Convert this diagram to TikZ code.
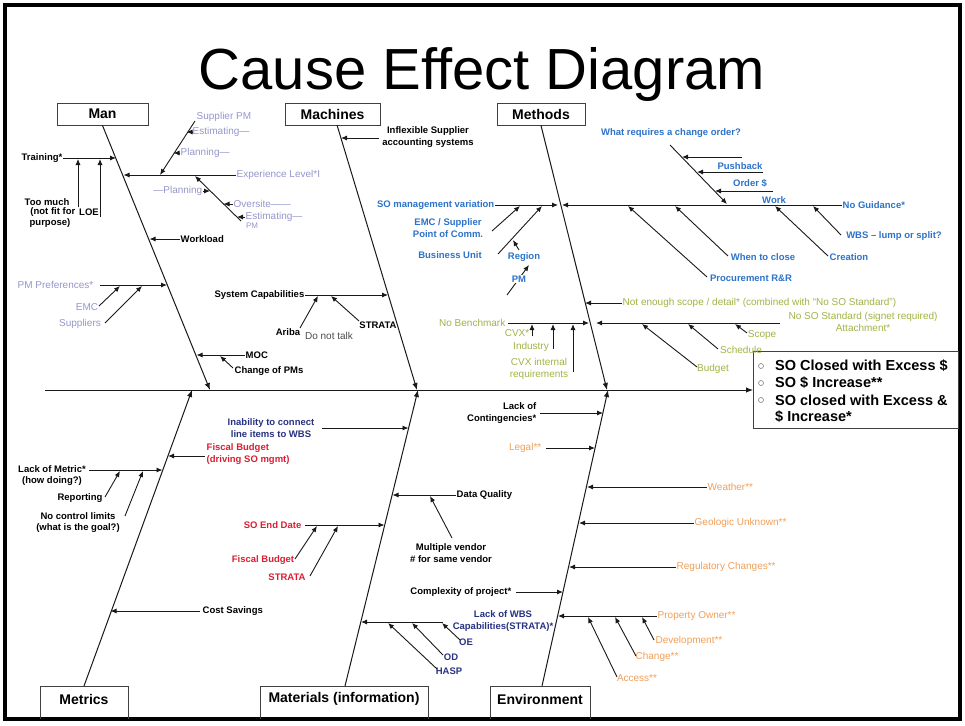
\documentclass[tikz,border=0pt]{standalone}
\usepackage{fontspec}
\setmainfont{Liberation Sans}
\usetikzlibrary{arrows.meta}
\definecolor{lav}{RGB}{150,150,205}
\definecolor{blu}{RGB}{45,115,200}
\definecolor{grn}{RGB}{160,180,70}
\definecolor{rd}{RGB}{220,30,50}
\definecolor{nvy}{RGB}{40,50,130}
\definecolor{org}{RGB}{240,160,90}
\begin{document}
\begin{tikzpicture}[x=1pt,y=-1pt,
  ln/.style={draw=black!90, line width=0.9pt},
  ar/.style={ln, -{Latex[length=6pt,width=5pt]}},
  bone/.style={draw=black!90, line width=1pt, -{Latex[length=7pt,width=5.5pt]}},
  cat/.style={draw=black!75, line width=1pt, font=\fontsize{14}{16}\selectfont\bfseries, inner sep=0pt},
  catl/.style={draw=black!75, line width=1pt},
  lab/.style={inner sep=0.5pt, align=center},
  bf/.style={lab, font=\fontsize{9.5}{11.5}\selectfont\bfseries},
  rg/.style={lab, font=\fontsize{10}{11.5}\selectfont},
  tb/.style={bf, text=black},
  tbl/.style={bf, text=blu},
  trd/.style={bf, text=rd},
  tnv/.style={bf, text=nvy},
  tlv/.style={rg, text=lav},
  tgr/.style={rg, text=grn},
  tor/.style={rg, text=org},
  eff/.style={inner sep=0pt, font=\fontsize{14.5}{17}\selectfont\bfseries, anchor=west},
  bul/.style={circle, draw=black!50, line width=0.6pt, inner sep=0pt, minimum size=5pt}
]
\useasboundingbox (0,0) rectangle (965,725);
\fill[white] (0,0) rectangle (965,725);
\draw[line width=3.5pt] (5,5) rectangle (960,719);

\node[font=\fontsize{58}{60}\selectfont, anchor=base] (title) at (482,89) {Cause Effect Diagram};

% ---------- category boxes ----------
\node[cat, minimum width=91pt, minimum height=22pt] (man) at (102.5,114) {Man};
\node[cat, minimum width=95pt, minimum height=22pt] (mach) at (332.5,114) {Machines};
\node[cat, minimum width=88pt, minimum height=22pt] (meth) at (541,114) {Methods};
\node[cat, draw=none] (metr) at (84,699) {Metrics};
\node[cat, draw=none] (mat) at (344,699) {Materials (information)};
\node[cat, draw=none] (env) at (540,699) {Environment};
\draw[catl] (40,719) |- (128,686) -- (128,719);
\draw[catl] (260,719) |- (428,686) -- (428,719);
\draw[catl] (490,719) |- (590,686) -- (590,719);

% ---------- effect box ----------
\node[draw=black!75, line width=1pt, minimum width=205pt, minimum height=77pt, inner sep=0, anchor=west] (effb) at (753,390) {};
\node[bul] (b1) at (761,366) {};
\node[bul] (b2) at (761,383) {};
\node[bul] (b3) at (761,400) {};
\node[eff] (e1) at (775,366) {SO Closed with Excess \$};
\node[eff] (e2) at (775,383) {SO \$ Increase**};
\node[eff] (e3) at (775,400) {SO closed with Excess \&};
\node[eff] (e4) at (775,417) {\$ Increase*};

% ---------- spine and bones ----------
\coordinate (spL) at (45,390);
\draw[bone] (spL) -- (effb.west);
\coordinate (manB) at (210,390);
\coordinate (machT) at (337,125); \coordinate (machB) at (417,390);
\coordinate (methB) at (607,390);
\coordinate (metrT) at (192,390); \coordinate (metrS) at (84,686);
\coordinate (matT) at (418,390);  \coordinate (matS) at (345,686);
\coordinate (envT) at (608,390);  \coordinate (envS) at (542,686);
\draw[bone] (man.south) -- (manB);
\draw[bone] (machT) -- (machB);
\draw[bone] (meth.south) -- (methB);
\draw[bone] (metrS) -- (metrT);
\draw[bone] (matS) -- (matT);
\draw[bone] (envS) -- (envT);

% ---------- MAN ----------
\node[tb, anchor=east] (trn) at (63,158) {Training*};
\coordinate (trnE) at (116,158);
\draw[ar] (trn.east) -- (trnE);
\node[tb] (tm1) at (47,202) {Too much};
\node[tb, anchor=east] (tm2) at (76,212) {(not fit for};
\node[tb] (tm3) at (89,212) {LOE};
\node[tb] (tm4) at (50,223) {purpose)};
\coordinate (tv1a) at (78,207); \coordinate (tv1b) at (78,159);
\coordinate (tv2a) at (100,217); \coordinate (tv2b) at (100,159);
\draw[ar] (tv1a) -- (tv1b);
\draw[ar] (tv2a) -- (tv2b);

\node[tb, anchor=west] (wkl) at (180,239) {Workload};
\coordinate (wklE) at (149.5,239);
\draw[ar] (wkl.west) -- (wklE);

\node[tlv, anchor=west] (exp) at (236,175) {Experience Level*I};
\coordinate (expE) at (123.5,175);
\draw[ar] (exp.west) -- (expE);
\node[tlv, anchor=west] (spm) at (196,117) {Supplier PM};
\coordinate (d1a) at (195,121); \coordinate (d1b) at (160,175);
\draw[ar] (d1a) -- (d1b);
\node[tlv, anchor=west] (est1) at (192,132) {Estimating—};
\coordinate (est1E) at (186.5,132);
\draw[ar] (est1.west) -- (est1E);
\node[tlv, anchor=west] (pl1) at (180,153) {Planning—};
\coordinate (pl1E) at (173.5,153);
\draw[ar] (pl1.west) -- (pl1E);

\coordinate (d2a) at (241,221); \coordinate (d2b) at (195,176);
\draw[ar] (d2a) -- (d2b);
\node[tlv, anchor=east] (pl2) at (203,191) {—Planning};
\coordinate (pl2E) at (210,191);
\draw[ar] (pl2.east) -- (pl2E);
\node[tlv, anchor=west] (ovs) at (233,204) {Oversite——};
\coordinate (ovsE) at (223.5,204);
\draw[ar] (ovs.west) -- (ovsE);
\node[tlv, anchor=west] (est2) at (245,217) {Estimating—};
\coordinate (est2E) at (237,217);
\draw[ar] (est2.west) -- (est2E);
\node[tlv, font=\fontsize{8}{9}\selectfont] (pm2) at (252,226) {PM};

\node[tlv, anchor=east] (pmp) at (94,285) {PM Preferences*};
\coordinate (pmpA) at (100,285); \coordinate (pmpE) at (167,285);
\draw[ar] (pmpA) -- (pmpE);
\node[tlv] (emc1) at (87,307) {EMC};
\coordinate (emcA) at (99,306); \coordinate (emcB) at (120,286);
\draw[ar] (emcA) -- (emcB);
\node[tlv] (sup) at (80,324) {Suppliers};
\coordinate (supA) at (105,323); \coordinate (supB) at (142,286);
\draw[ar] (supA) -- (supB);

\node[tb, anchor=west] (moc) at (245,355) {MOC};
\coordinate (mocE) at (196.5,355);
\draw[ar] (moc.west) -- (mocE);
\node[tb, anchor=west] (cpm) at (234,371) {Change of PMs};
\coordinate (cpmA) at (233,368); \coordinate (cpmB) at (220,356);
\draw[ar] (cpmA) -- (cpmB);

% ---------- MACHINES ----------
\node[tb] (infl) at (428,137) {Inflexible Supplier\\accounting systems};
\coordinate (inflA) at (379,138); \coordinate (inflE) at (341,138);
\draw[ar] (inflA) -- (inflE);
\node[tb, anchor=east] (syc) at (305,295) {System Capabilities};
\coordinate (sycE) at (388,295);
\draw[ar] (syc.east) -- (sycE);
\node[tb] (ari) at (288,332) {Ariba};
\coordinate (ariA) at (300,328); \coordinate (ariB) at (318,296);
\draw[ar] (ariA) -- (ariB);
\node[rg, text=black!70] (dnt) at (329,336) {Do not talk};
\node[tb] (str1) at (378,325) {STRATA};
\coordinate (str1A) at (359,321); \coordinate (str1B) at (331,296);
\draw[ar] (str1A) -- (str1B);

% ---------- METHODS ----------
\node[tbl, anchor=east] (som) at (495,205) {SO management variation};
\coordinate (somE) at (558,205);
\draw[ar] (som.east) -- (somE);
\node[tbl] (emc2) at (448,228) {EMC / Supplier\\Point of Comm.};
\coordinate (emc2A) at (492,231); \coordinate (emc2B) at (520,206);
\draw[ar] (emc2A) -- (emc2B);
\node[tbl] (bu) at (450,255) {Business Unit};
\coordinate (buA) at (498,254); \coordinate (buB) at (542,206);
\draw[ar] (buA) -- (buB);
\node[tbl] (reg) at (524,257) {Region};
\coordinate (regA) at (519,250); \coordinate (regB) at (513,240);
\draw[ar] (regA) -- (regB);
\coordinate (pmA) at (507,295); \coordinate (pmB) at (529,265);
\draw[ar] (pmA) -- (pmB);
\node[tbl, fill=white] (pm3) at (519,279) {PM};

\node[tbl, anchor=west] (nog) at (842,205) {No Guidance*};
\coordinate (nogE) at (562,205);
\draw[ar] (nog.west) -- (nogE);
\node[tbl] (work) at (774,200) {Work};
\node[tbl] (wrc) at (671,133) {What requires a change order?};
\coordinate (wrcA) at (670,145); \coordinate (wrcB) at (727,204);
\draw[ar] (wrcA) -- (wrcB);
\coordinate (cw1A) at (742,157); \coordinate (cw1B) at (682,157);
\draw[ar] (cw1A) -- (cw1B);
\node[tbl] (push) at (740,166) {Pushback};
\coordinate (cw2A) at (763,172); \coordinate (cw2B) at (697,172);
\draw[ar] (cw2A) -- (cw2B);
\node[tbl] (ord) at (750,183) {Order \$};
\coordinate (cw3A) at (773,191); \coordinate (cw3B) at (715,191);
\draw[ar] (cw3A) -- (cw3B);

\node[tbl] (proc) at (751,278) {Procurement R\&R};
\coordinate (procA) at (707,277); \coordinate (procB) at (628,206);
\draw[ar] (procA) -- (procB);
\node[tbl] (whc) at (763,257) {When to close};
\coordinate (whcA) at (728,256); \coordinate (whcB) at (675,206);
\draw[ar] (whcA) -- (whcB);
\node[tbl] (cre) at (849,257) {Creation};
\coordinate (creA) at (828,256); \coordinate (creB) at (775,206);
\draw[ar] (creA) -- (creB);
\node[tbl] (wbs) at (894,236) {WBS – lump or split?};
\coordinate (wbsA) at (841,235); \coordinate (wbsB) at (813,206);
\draw[ar] (wbsA) -- (wbsB);

\node[tgr, anchor=west] (nes) at (622,303) {Not enough scope / detail* (combined with “No SO Standard”)};
\coordinate (nesE) at (585,303);
\draw[ar] (nes.west) -- (nesE);
\node[tgr, anchor=east] (nob) at (506,323) {No Benchmark};
\coordinate (nobA) at (508,323); \coordinate (nobE) at (589,323);
\draw[ar] (nobA) -- (nobE);
\node[tgr] (nos) at (863,322) {No SO Standard (signet required)\\Attachment*};
\coordinate (nosA) at (780,323); \coordinate (nosE) at (596,323);
\draw[ar] (nosA) -- (nosE);
\node[tgr, anchor=east] (cvx) at (530,333) {CVX*};
\coordinate (cvxA) at (532,336); \coordinate (cvxB) at (532,324);
\draw[ar] (cvxA) -- (cvxB);
\node[tgr] (ind) at (531,347) {Industry};
\coordinate (indA) at (553,349); \coordinate (indB) at (553,324);
\draw[ar] (indA) -- (indB);
\node[tgr] (cvxi) at (539,369) {CVX internal\\requirements};
\coordinate (cvxiA) at (573,372); \coordinate (cvxiB) at (573,324);
\draw[ar] (cvxiA) -- (cvxiB);
\node[tgr] (bud) at (713,369) {Budget};
\coordinate (budA) at (697,367); \coordinate (budB) at (642,324);
\draw[ar] (budA) -- (budB);
\node[tgr] (sch) at (741,350) {Schedule};
\coordinate (schA) at (718,349); \coordinate (schB) at (688,324);
\draw[ar] (schA) -- (schB);
\node[tgr] (scp) at (762,335) {Scope};
\coordinate (scpA) at (747,333); \coordinate (scpB) at (735,324);
\draw[ar] (scpA) -- (scpB);

% ---------- ENVIRONMENT ----------
\node[tb, align=right, anchor=east] (loc) at (537,413) {Lack of\\Contingencies*};
\coordinate (locA) at (540,413); \coordinate (locE) at (603,413);
\draw[ar] (locA) -- (locE);
\node[tor, anchor=east] (leg) at (542,448) {Legal**};
\coordinate (legA) at (546,448); \coordinate (legE) at (595,448);
\draw[ar] (legA) -- (legE);
\node[tor, anchor=west] (wea) at (707,487) {Weather**};
\coordinate (weaE) at (587,487);
\draw[ar] (wea.west) -- (weaE);
\node[tor, anchor=west] (geo) at (694,523) {Geologic Unknown**};
\coordinate (geoE) at (579,523);
\draw[ar] (geo.west) -- (geoE);
\node[tor, anchor=west] (regc) at (676,567) {Regulatory Changes**};
\coordinate (regcE) at (569,567);
\draw[ar] (regc.west) -- (regcE);
\node[tb, anchor=east] (cxp) at (512,592) {Complexity of project*};
\coordinate (cxpA) at (516,592); \coordinate (cxpE) at (563,592);
\draw[ar] (cxpA) -- (cxpE);
\node[tor, anchor=west] (pow) at (657,616) {Property Owner**};
\coordinate (powE) at (558,616);
\draw[ar] (pow.west) -- (powE);
\node[tor] (acc) at (637,678) {Access**};
\coordinate (accA) at (617,677); \coordinate (accB) at (588,617);
\draw[ar] (accA) -- (accB);
\node[tor] (chg) at (657,657) {Change**};
\coordinate (chgA) at (636,656); \coordinate (chgB) at (615,617);
\draw[ar] (chgA) -- (chgB);
\node[tor] (dev) at (689,641) {Development**};
\coordinate (devA) at (654,640); \coordinate (devB) at (642,617);
\draw[ar] (devA) -- (devB);

% ---------- MATERIALS ----------
\node[tnv] (inab) at (271,428) {Inability to connect\\line items to WBS};
\coordinate (inabA) at (322,428); \coordinate (inabE) at (408.5,428);
\draw[ar] (inabA) -- (inabE);
\node[tb, anchor=west] (dq) at (456,495) {Data Quality};
\coordinate (dqE) at (392.5,495);
\draw[ar] (dq.west) -- (dqE);
\node[tb] (mv) at (451,553) {Multiple vendor\\\# for same vendor};
\coordinate (mvA) at (452,538); \coordinate (mvB) at (430,496);
\draw[ar] (mvA) -- (mvB);
\node[trd, anchor=east] (sed) at (302,525) {SO End Date};
\coordinate (sedA) at (305,525); \coordinate (sedE) at (384.5,525);
\draw[ar] (sedA) -- (sedE);
\node[trd] (fb2) at (263,560) {Fiscal Budget};
\coordinate (fb2A) at (295,559); \coordinate (fb2B) at (317,526);
\draw[ar] (fb2A) -- (fb2B);
\node[trd] (str2) at (287,577) {STRATA};
\coordinate (str2A) at (310,576); \coordinate (str2B) at (338,526);
\draw[ar] (str2A) -- (str2B);
\node[tnv] (lwbs) at (503,621) {Lack of WBS\\Capabilities(STRATA)*};
\coordinate (lwbsA) at (443,622); \coordinate (lwbsE) at (361,622);
\draw[ar] (lwbsA) -- (lwbsE);
\node[tnv] (oe) at (466,642) {OE};
\coordinate (oeA) at (460,640); \coordinate (oeB) at (442,623);
\draw[ar] (oeA) -- (oeB);
\node[tnv] (od) at (451,657) {OD};
\coordinate (odA) at (443,655); \coordinate (odB) at (412,623);
\draw[ar] (odA) -- (odB);
\node[tnv] (hasp) at (449,671) {HASP};
\coordinate (haspA) at (437,669); \coordinate (haspB) at (388,623);
\draw[ar] (haspA) -- (haspB);

% ---------- METRICS ----------
\node[trd, align=left, anchor=west] (fb1) at (206,454) {Fiscal Budget\\(driving SO mgmt)};
\coordinate (fb1A) at (205,456); \coordinate (fb1E) at (168,456);
\draw[ar] (fb1A) -- (fb1E);
\node[tb] (lom) at (52,475.5) {Lack of Metric*\\(how doing?)};
\coordinate (lomA) at (89,470); \coordinate (lomE) at (162.5,470);
\draw[ar] (lomA) -- (lomE);
\node[tb] (rep) at (80,498) {Reporting};
\coordinate (repA) at (105,497); \coordinate (repB) at (120,471);
\draw[ar] (repA) -- (repB);
\node[tb] (ncl) at (78,522.5) {No control limits\\(what is the goal?)};
\coordinate (nclA) at (125,516); \coordinate (nclB) at (143,471);
\draw[ar] (nclA) -- (nclB);
\node[tb, anchor=west] (cs) at (202,611) {Cost Savings};
\coordinate (csA) at (200,611); \coordinate (csE) at (110.5,611);
\draw[ar] (csA) -- (csE);
\end{tikzpicture}
\end{document}
